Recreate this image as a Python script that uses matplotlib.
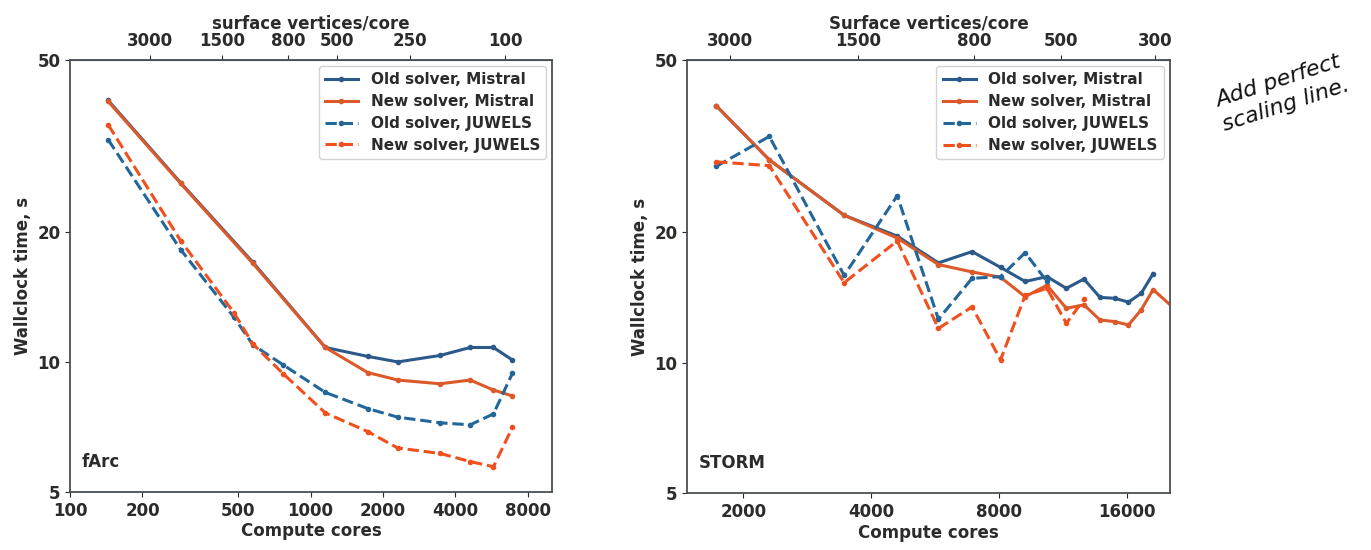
import numpy as np
import matplotlib
matplotlib.use("Agg")
import matplotlib.pyplot as plt
from matplotlib.ticker import FixedLocator, NullLocator, FixedFormatter


# ── Data: fArc ──────────────────────────────────────────────────────────────

farc_cores_mistral = [144, 288, 576, 1152, 1728, 2304, 3456, 4608, 5760, 6912]
farc_old_mistral = [40.3, 26.0, 17.0, 10.8, 10.3, 10.0, 10.35, 10.8, 10.8, 10.1]
farc_new_mistral = [40.1, 25.9, 16.9, 10.8, 9.45, 9.08, 8.9, 9.08, 8.61, 8.34]

farc_cores_juwels = [144, 288, 480, 576, 768, 1152, 1728, 2304, 3456, 4608, 5760, 6912]
farc_old_juwels = [32.7, 18.2, 12.7, 10.95, 9.85, 8.5, 7.8, 7.45, 7.23, 7.15, 7.58, 9.42]
farc_new_juwels = [35.4, 19.1, 13.0, 11.0, 9.4, 7.62, 6.9, 6.32, 6.14, 5.88, 5.72, 7.06]

farc_vertices = 645000
farc_top_ticks = [3000, 1500, 800, 500, 250, 100]
farc_bottom_ticks = [100, 200, 500, 1000, 2000, 4000, 8000]

# ── Data: STORM ─────────────────────────────────────────────────────────────

storm_cores_old_mistral = [1728, 2304, 3456, 4608, 5760, 6912, 8064, 9216, 10368,
                           11520, 12672, 13824, 14976, 16128, 17280, 18432]
storm_old_mistral = [39.2, 29.4, 21.9, 19.6, 17.0, 18.05, 16.6, 15.4, 15.8,
                     14.85, 15.6, 14.15, 14.08, 13.8, 14.46, 16.05]
storm_cores_new_mistral = [1728, 2304, 3456, 4608, 5760, 6912, 8064, 9216, 10368,
                           11520, 12672, 13824, 14976, 16128, 17280, 18432, 20736]
storm_new_mistral = [39.2, 29.4, 21.9, 19.4, 16.85, 16.2, 15.75, 14.2, 15.1,
                     13.35, 13.6, 12.55, 12.44, 12.22, 13.24, 14.75, 13.3]

storm_cores_old_juwels = [1728, 2304, 3456, 4608, 5760, 6912, 8064, 9216, 10368]
storm_old_juwels = [28.4, 33.3, 15.9, 24.3, 12.6, 15.66, 15.8, 17.95, 15.4]
storm_cores_new_juwels = [1728, 2304, 3456, 4608, 5760, 6912, 8064, 9216, 10368, 11520, 12672]
storm_new_juwels = [29.1, 28.5, 15.3, 19.1, 12.0, 13.45, 10.15, 14.3, 14.85, 12.33, 14.0]

storm_vertices = 5.58e6
storm_top_ticks = [3000, 1500, 800, 500, 300]
storm_bottom_ticks = [2000, 4000, 8000, 16000]

y_ticks = [5, 10, 20, 50]
labels = ["Old solver, Mistral", "New solver, Mistral",
          "Old solver, JUWELS", "New solver, JUWELS"]

C_OLD_MISTRAL = "#2b5a8a"
C_OLD_JUWELS = "#23669a"
C_NEW_MISTRAL = "#dc5a2a"
C_NEW_JUWELS = "#f0501e"
TXT = "#2b2b2b"

plt.rcParams["font.weight"] = "bold"
plt.rcParams["axes.labelweight"] = "bold"


# ── Panels ──────────────────────────────────────────────────────────────────

def draw_panel(ax, series, xlim, xticks, top_ticks, vertices, top_label, name):
    styles = [
        dict(color=C_OLD_MISTRAL, linestyle="-"),
        dict(color=C_NEW_MISTRAL, linestyle="-"),
        dict(color=C_OLD_JUWELS, linestyle="--"),
        dict(color=C_NEW_JUWELS, linestyle="--"),
    ]
    for (x, y), st, lab in zip(series, styles, labels):
        ax.plot(x, y, marker="o", markersize=3, linewidth=2.2, label=lab, **st)

    ax.set_xscale("log")
    ax.set_yscale("log")
    ax.set_xlim(*xlim)
    ax.set_ylim(5, 50)

    ax.xaxis.set_major_locator(FixedLocator(xticks))
    ax.xaxis.set_major_formatter(FixedFormatter([str(t) for t in xticks]))
    ax.xaxis.set_minor_locator(NullLocator())
    ax.yaxis.set_major_locator(FixedLocator(y_ticks))
    ax.yaxis.set_major_formatter(FixedFormatter([str(t) for t in y_ticks]))
    ax.yaxis.set_minor_locator(NullLocator())

    ax.tick_params(labelsize=12, colors=TXT)
    for sp in ax.spines.values():
        sp.set_color("#4a4f55")
        sp.set_linewidth(1.3)

    ax.set_xlabel("Compute cores", fontsize=12, color=TXT, labelpad=2)
    ax.set_ylabel("Wallclock time, s", fontsize=12, color=TXT, labelpad=4)

    def conv(v):
        v = np.asarray(v, dtype=float)
        with np.errstate(divide="ignore", invalid="ignore"):
            return vertices / v

    sec = ax.secondary_xaxis("top", functions=(conv, conv))
    sec.set_xticks(top_ticks)
    sec.xaxis.set_major_formatter(FixedFormatter([str(t) for t in top_ticks]))
    sec.xaxis.set_minor_locator(NullLocator())
    sec.tick_params(labelsize=12, colors=TXT)
    sec.spines["top"].set_color("#4a4f55")
    sec.set_xlabel(top_label, fontsize=12, color=TXT, labelpad=3)

    ax.text(0.025, 0.07, name, transform=ax.transAxes, fontsize=12, color=TXT,
            va="center", ha="left", fontweight="bold")

    leg = ax.legend(loc="upper right", fontsize=11, frameon=True,
                    handlelength=2.2, borderpad=0.4, labelspacing=0.45,
                    borderaxespad=0.4)
    leg.get_frame().set_edgecolor("#c8c8c8")
    for t in leg.get_texts():
        t.set_color(TXT)


fig = plt.figure(figsize=(13.71, 5.5), dpi=100)
ax1 = fig.add_axes([0.0511, 0.1055, 0.3516, 0.7855])
ax2 = fig.add_axes([0.5011, 0.1036, 0.3523, 0.7873])

draw_panel(ax1,
           [(farc_cores_mistral, farc_old_mistral),
            (farc_cores_mistral, farc_new_mistral),
            (farc_cores_juwels, farc_old_juwels),
            (farc_cores_juwels, farc_new_juwels)],
           (100, 10100), farc_bottom_ticks, farc_top_ticks, farc_vertices,
           "surface vertices/core", "fArc")

draw_panel(ax2,
           [(storm_cores_old_mistral, storm_old_mistral),
            (storm_cores_new_mistral, storm_new_mistral),
            (storm_cores_old_juwels, storm_old_juwels),
            (storm_cores_new_juwels, storm_new_juwels)],
           (1475, 20200), storm_bottom_ticks, storm_top_ticks, storm_vertices,
           "Surface vertices/core", "STORM")

# handwritten note on the right
fig.text(0.935, 0.83, "Add perfect\nscaling line.", fontsize=16, style="italic",
         fontweight="normal", rotation=18, ha="center", va="center",
         color="#111111", linespacing=1.3)

fig.savefig("out.png", dpi=100)
